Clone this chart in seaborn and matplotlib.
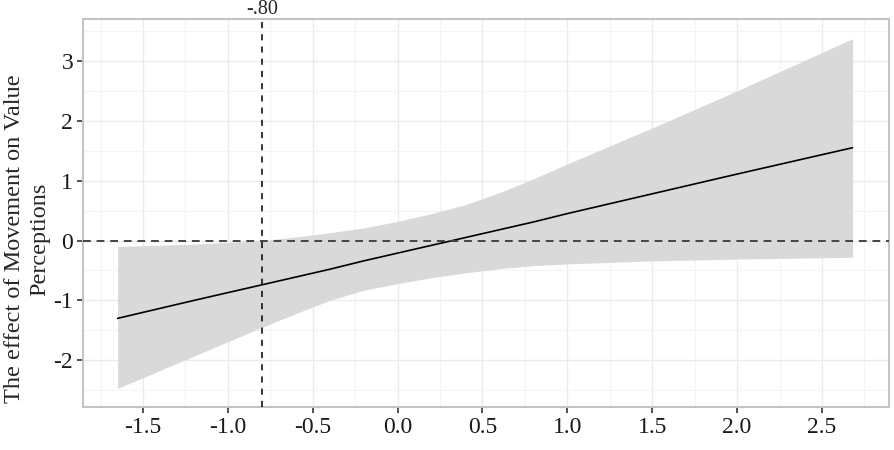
import matplotlib
matplotlib.use("Agg")
import matplotlib.pyplot as plt
import matplotlib.ticker as mticker
import pandas as pd
import seaborn as sns

# Moderator values and the marginal effect with its confidence band
moderator = [-1.65, -1.2, -0.8, -0.6, -0.4, -0.2, 0.0, 0.2, 0.4, 0.6, 0.8, 1.0, 1.5, 2.0, 2.68]
effect = [-1.30, -1.00, -0.74, -0.61, -0.48, -0.34, -0.21, -0.08, 0.05, 0.18, 0.31, 0.45, 0.78, 1.11, 1.55]
upper = [-0.10, -0.06, 0.00, 0.06, 0.13, 0.21, 0.32, 0.45, 0.60, 0.80, 1.03, 1.28, 1.88, 2.50, 3.37]
lower = [-2.47, -1.93, -1.45, -1.22, -1.00, -0.83, -0.72, -0.62, -0.54, -0.47, -0.42, -0.39, -0.34, -0.31, -0.28]

cutoff = -0.80
cutoff_label = "-.80"
x_ticks = [-1.5, -1.0, -0.5, 0.0, 0.5, 1.0, 1.5, 2.0, 2.5]
y_ticks = [-2, -1, 0, 1, 2, 3]
y_label = "The effect of Movement on Value\nPerceptions"

sns.set_theme(style="whitegrid")
plt.rcParams["font.family"] = ["Liberation Serif", "DejaVu Serif"]
plt.rcParams["axes.unicode_minus"] = False

df = pd.DataFrame({"x": moderator, "effect": effect, "lower": lower, "upper": upper})

fig = plt.figure(figsize=(8.94, 4.5), dpi=100)
ax = fig.add_axes([0.0928, 0.0956, 0.9016, 0.8622])

ax.fill_between(df["x"], df["lower"], df["upper"], color="#D9D9D9", linewidth=0, zorder=2)
sns.lineplot(data=df, x="x", y="effect", ax=ax, color="black", linewidth=1.2, zorder=3)

ax.axhline(0, color="#444444", linestyle=(0, (4, 3)), linewidth=1.4, zorder=4)
ax.axvline(cutoff, color="black", linestyle=(0, (4, 4)), linewidth=1.1, zorder=4)
# label of the cutoff sits in the strip above the panel
ax.annotate(cutoff_label, xy=(cutoff, 1.0), xycoords=("data", "figure fraction"),
            ha="center", va="top", fontsize=14.5, annotation_clip=False)

ax.set_xlim(-1.854, 2.895)
ax.set_ylim(-2.78, 3.70)
ax.set_xticks(x_ticks)
ax.set_xticklabels([f"{t:.1f}" for t in x_ticks])
ax.set_yticks(y_ticks)
ax.set_yticklabels([str(t) for t in y_ticks])
ax.xaxis.set_minor_locator(mticker.MultipleLocator(0.25))
ax.yaxis.set_minor_locator(mticker.MultipleLocator(0.5))

ax.grid(which="major", color="#EBEBEB", linewidth=1.0)
ax.grid(which="minor", color="#F4F4F4", linewidth=0.8)
ax.set_axisbelow(True)
ax.tick_params(axis="both", which="major", labelsize=17, length=4, width=1.2,
               color="#333333", labelcolor="#1a1a1a", direction="out", pad=3)
ax.tick_params(which="major", bottom=True, left=True)
ax.tick_params(which="minor", length=0)
for spine in ax.spines.values():
    spine.set_color("#C4C4C4")
    spine.set_linewidth(1.5)

ax.set_xlabel("")
ax.set_ylabel(y_label, fontsize=17.5, linespacing=1.3)
ax.yaxis.set_label_coords(-0.040, 0.433)

fig.savefig("out.png", dpi=100)
